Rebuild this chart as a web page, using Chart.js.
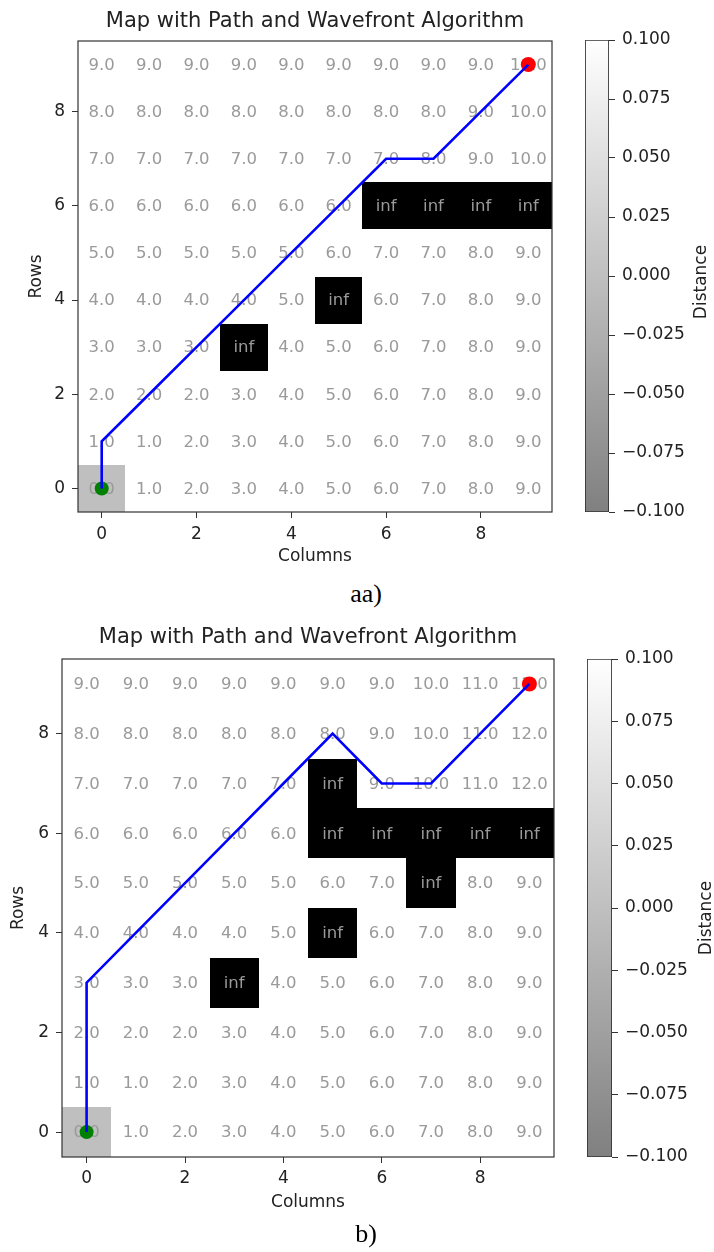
<!DOCTYPE html>
<html>
<head>
<meta charset="utf-8">
<script src="https://cdn.jsdelivr.net/npm/chart.js@4.4.1/dist/chart.umd.min.js"></script>
<style>
  body { margin: 0; background: #fff; width: 714px; height: 1252px; position: relative; overflow: hidden; }
  canvas { position: absolute; }
  .cap { position: absolute; left: 266px; width: 200px; text-align: center; font-family: "Liberation Serif", serif; font-size: 26px; line-height: 30px; color: #000; }
</style>
</head>
<body>
<canvas id="mapA" width="570" height="572" style="left:0;top:0"></canvas>
<canvas id="barA" width="129" height="572" style="left:585px;top:0"></canvas>
<div class="cap" style="top:579px">aa)</div>
<canvas id="mapB" width="570" height="600" style="left:0;top:620px"></canvas>
<canvas id="barB" width="127" height="600" style="left:587px;top:620px"></canvas>
<div class="cap" style="top:1219px">b)</div>
<script>
const I = Infinity;
const columns = [0, 1, 2, 3, 4, 5, 6, 7, 8, 9];
const rows = [0, 1, 2, 3, 4, 5, 6, 7, 8, 9];
const xTicks = [0, 2, 4, 6, 8];
const yTicks = [0, 2, 4, 6, 8];
const barTicks = [-0.1, -0.075, -0.05, -0.025, 0, 0.025, 0.05, 0.075, 0.1];

// distance maps, top row (9) first
const distA = [
  [9, 9, 9, 9, 9, 9, 9, 9, 9, 10],
  [8, 8, 8, 8, 8, 8, 8, 8, 9, 10],
  [7, 7, 7, 7, 7, 7, 7, 8, 9, 10],
  [6, 6, 6, 6, 6, 6, I, I, I, I],
  [5, 5, 5, 5, 5, 6, 7, 7, 8, 9],
  [4, 4, 4, 4, 5, I, 6, 7, 8, 9],
  [3, 3, 3, I, 4, 5, 6, 7, 8, 9],
  [2, 2, 2, 3, 4, 5, 6, 7, 8, 9],
  [1, 1, 2, 3, 4, 5, 6, 7, 8, 9],
  [0, 1, 2, 3, 4, 5, 6, 7, 8, 9]
];
const distB = [
  [9, 9, 9, 9, 9, 9, 9, 10, 11, 12],
  [8, 8, 8, 8, 8, 8, 9, 10, 11, 12],
  [7, 7, 7, 7, 7, I, 9, 10, 11, 12],
  [6, 6, 6, 6, 6, I, I, I, I, I],
  [5, 5, 5, 5, 5, 6, 7, I, 8, 9],
  [4, 4, 4, 4, 5, I, 6, 7, 8, 9],
  [3, 3, 3, I, 4, 5, 6, 7, 8, 9],
  [2, 2, 2, 3, 4, 5, 6, 7, 8, 9],
  [1, 1, 2, 3, 4, 5, 6, 7, 8, 9],
  [0, 1, 2, 3, 4, 5, 6, 7, 8, 9]
];
// path as [column, row]
const pathA = [[0, 0], [0, 1], [1, 2], [2, 3], [3, 4], [4, 5], [5, 6], [6, 7], [7, 7], [8, 8], [9, 9]];
const pathB = [[0, 0], [0, 1], [0, 2], [0, 3], [1, 4], [2, 5], [3, 6], [4, 7], [5, 8], [6, 7], [7, 7], [8, 8], [9, 9]];
const startCell = [0, 0];
const goalCell = [9, 9];

Chart.defaults.font.family = 'DejaVu Sans';
Chart.defaults.color = '#222';

const cellsPlugin = {
  id: 'cells',
  beforeDatasetsDraw(chart, args, opts) {
    const {ctx, scales: {x, y}} = chart;
    const dist = opts.dist;
    ctx.save();
    dist.forEach((line, i) => {
      const r = rows[rows.length - 1 - i];
      line.forEach((v, k) => {
        const c = columns[k];
        const x0 = Math.round(x.getPixelForValue(c - 0.5)), x1 = Math.round(x.getPixelForValue(c + 0.5));
        const y0 = Math.round(y.getPixelForValue(r + 0.5)), y1 = Math.round(y.getPixelForValue(r - 0.5));
        if (v === Infinity) {
          ctx.fillStyle = '#000';
          ctx.fillRect(x0, y0, x1 - x0, y1 - y0);
        } else if (v === 0) {
          ctx.fillStyle = '#bfbfbf';
          ctx.fillRect(x0, y0, x1 - x0, y1 - y0);
        }
      });
    });
    ctx.font = '16.5px "DejaVu Sans"';
    ctx.fillStyle = '#9a9a9a';
    ctx.textAlign = 'center';
    ctx.textBaseline = 'middle';
    dist.forEach((line, i) => {
      const r = rows[rows.length - 1 - i];
      line.forEach((v, k) => {
        const t = v === Infinity ? 'inf' : v.toFixed(1);
        ctx.fillText(t, x.getPixelForValue(columns[k]), y.getPixelForValue(r) + 1);
      });
    });
    ctx.restore();
  },
  afterDatasetsDraw(chart) {
    const {ctx, chartArea: a} = chart;
    ctx.save();
    ctx.strokeStyle = '#333';
    ctx.lineWidth = 1.2;
    ctx.strokeRect(a.left, a.top, a.right - a.left, a.bottom - a.top);
    ctx.restore();
  }
};

function mapChart(id, dist, path, g) {
  const tickFont = {size: 17};
  return new Chart(document.getElementById(id), {
    type: 'scatter',
    data: {
      datasets: [
        {
          type: 'line',
          data: path.map(p => ({x: p[0], y: p[1]})),
          borderColor: '#0000ff',
          borderWidth: 2.6,
          pointRadius: 0,
          tension: 0,
          order: 1
        },
        {
          data: [{x: startCell[0], y: startCell[1]}],
          backgroundColor: '#008000',
          borderWidth: 0,
          pointRadius: 7,
          order: 2
        },
        {
          data: [{x: goalCell[0], y: goalCell[1]}],
          backgroundColor: '#ff0000',
          borderWidth: 0,
          pointRadius: 7.5,
          order: 2
        }
      ]
    },
    options: {
      responsive: false,
      animation: false,
      events: [],
      layout: {padding: {left: 0, right: g.right, top: 0, bottom: 0}},
      plugins: {
        legend: {display: false},
        tooltip: {enabled: false},
        title: {
          display: true,
          fullSize: false,
          text: 'Map with Path and Wavefront Algorithm',
          color: '#222',
          font: {size: 21, weight: 'normal'},
          padding: {top: g.titleTop, bottom: g.titleBottom}
        },
        cells: {dist: dist}
      },
      scales: {
        x: {
          type: 'linear',
          min: -0.5,
          max: 9.5,
          afterBuildTicks: s => { s.ticks = xTicks.map(v => ({value: v})); },
          afterFit: s => { s.height = g.xHeight; },
          ticks: {font: tickFont, padding: g.xPad, color: '#222'},
          grid: {drawOnChartArea: false, tickLength: 6, color: '#333'},
          border: {display: false},
          title: {display: true, text: 'Columns', font: tickFont, color: '#222', padding: {top: 0, bottom: g.xTitlePad}}
        },
        y: {
          type: 'linear',
          min: -0.5,
          max: 9.5,
          afterBuildTicks: s => { s.ticks = yTicks.map(v => ({value: v})); },
          afterFit: s => { s.width = g.yWidth; },
          ticks: {font: tickFont, padding: 7, color: '#222'},
          grid: {drawOnChartArea: false, tickLength: 6, color: '#333'},
          border: {display: false},
          title: {display: true, text: 'Rows', font: tickFont, color: '#222', padding: {top: g.yTitlePad, bottom: 0}}
        }
      }
    },
    plugins: [cellsPlugin]
  });
}

const labelPlugin = {
  id: 'cbLabel',
  afterDraw(chart, args, opts) {
    const {ctx, chartArea: a} = chart;
    ctx.save();
    ctx.translate(opts.x, (a.top + a.bottom) / 2 + opts.dy);
    ctx.rotate(-Math.PI / 2);
    ctx.font = '17px "DejaVu Sans"';
    ctx.fillStyle = '#222';
    ctx.textAlign = 'center';
    ctx.textBaseline = 'middle';
    ctx.fillText('Distance', 0, 0);
    ctx.restore();
  }
};

function colorBar(id, g) {
  return new Chart(document.getElementById(id), {
    type: 'bar',
    data: {
      labels: ['Distance'],
      datasets: [{
        data: [[barTicks[0], barTicks[barTicks.length - 1]]],
        backgroundColor: c => {
          const a = c.chart.chartArea;
          if (!a) return '#bfbfbf';
          const grad = c.chart.ctx.createLinearGradient(0, a.bottom, 0, a.top);
          grad.addColorStop(0, '#808080');
          grad.addColorStop(1, '#ffffff');
          return grad;
        },
        borderColor: '#333',
        borderWidth: 1.2,
        borderSkipped: false,
        categoryPercentage: 1,
        barPercentage: 1
      }]
    },
    options: {
      responsive: false,
      animation: false,
      events: [],
      layout: {padding: {left: 0, right: 0, top: g.top, bottom: g.bottom}},
      plugins: {
        legend: {display: false},
        tooltip: {enabled: false},
        cbLabel: {x: g.labelX, dy: g.labelDy}
      },
      scales: {
        x: {display: false},
        y: {
          position: 'right',
          min: barTicks[0],
          max: barTicks[barTicks.length - 1],
          afterBuildTicks: s => { s.ticks = barTicks.map(v => ({value: v})); },
          afterFit: s => { s.width = g.yWidth; },
          ticks: {
            font: {size: 17},
            padding: 7,
            color: '#222',
            callback: v => (v < 0 ? '\u2212' : '') + Math.abs(v).toFixed(3)
          },
          grid: {drawOnChartArea: false, tickLength: 6, color: '#333'},
          border: {display: false}
        }
      }
    },
    plugins: [labelPlugin]
  });
}

mapChart('mapA', distA, pathA, {right: 18, titleTop: 9.4, titleBottom: 6.4, xHeight: 60, xPad: 6, xTitlePad: 5, yWidth: 78, yTitlePad: 26});
colorBar('barA', {top: 40, bottom: 60, yWidth: 105, labelX: 117, labelDy: 6});
mapChart('mapB', distB, pathB, {right: 16, titleTop: 4.9, titleBottom: 8.9, xHeight: 63, xPad: 5, xTitlePad: 7, yWidth: 62, yTitlePad: 8});
colorBar('barB', {top: 39, bottom: 63, yWidth: 102, labelX: 120, labelDy: 10});
</script>
</body>
</html>
